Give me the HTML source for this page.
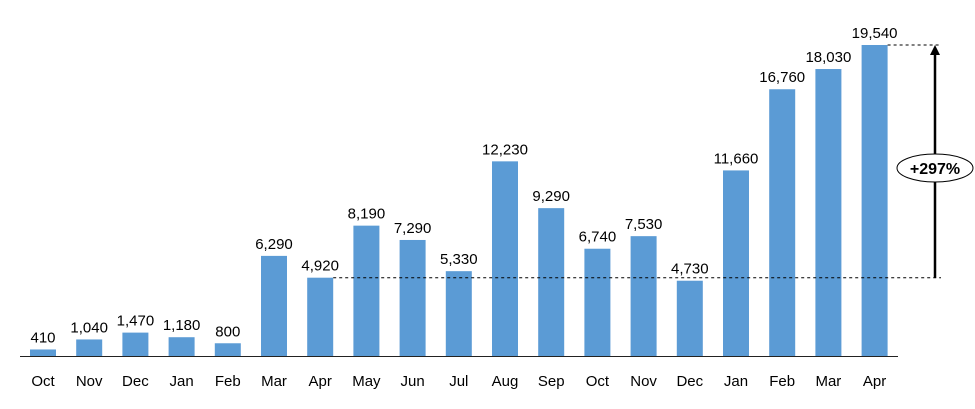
<!DOCTYPE html>
<html><head><meta charset="utf-8"><style>
body{margin:0;background:#fff;width:975px;height:404px;overflow:hidden}
svg text{font-family:"Liberation Sans",sans-serif}
</style></head><body>
<svg id="chart" width="975" height="404" xmlns="http://www.w3.org/2000/svg"></svg>
<script>
const categories=["Oct","Nov","Dec","Jan","Feb","Mar","Apr","May","Jun","Jul","Aug","Sep","Oct","Nov","Dec","Jan","Feb","Mar","Apr"];
const values=[410,1040,1470,1180,800,6290,4920,8190,7290,5330,12230,9290,6740,7530,4730,11660,16760,18030,19540];
const valueLabels=["410","1,040","1,470","1,180","800","6,290","4,920","8,190","7,290","5,330","12,230","9,290","6,740","7,530","4,730","11,660","16,760","18,030","19,540"];
const growthLabel="+297%";
const growthFromIndex=6, growthToIndex=18;

const svg=document.getElementById('chart');
const NS="http://www.w3.org/2000/svg";
const baseY=356, topY=45, maxV=19540;
const x0=43, step=46.2, bw=26;
function xScale(i){return x0+i*step;}
function yScale(v){return baseY-(v/maxV)*(baseY-topY);}
function mk(tag,attrs,parent){const e=document.createElementNS(NS,tag);for(const k in attrs)e.setAttribute(k,attrs[k]);(parent||svg).appendChild(e);return e;}

categories.forEach((c,i)=>{
  const y=yScale(values[i]);
  const r=mk('rect',{x:xScale(i)-bw/2,y:y,width:bw,height:baseY-y,fill:'#5b9bd5'});
  
  
  const t=mk('text',{x:xScale(i),y:y-7,'text-anchor':'middle','font-size':'15',fill:'#000'});
  t.textContent=valueLabels[i];
  
  
  const xl=mk('text',{x:xScale(i),y:386,'text-anchor':'middle','font-size':'15',fill:'#000'});
  xl.textContent=c;
  
  
});
const ax=mk('line',{x1:20,x2:898,y1:baseY+0.5,y2:baseY+0.5,stroke:'#222','stroke-width':1});



const yLow=yScale(values[growthFromIndex]), yHigh=yScale(values[growthToIndex]);
const arrowX=935;
const d1=mk('line',{x1:xScale(growthFromIndex)+bw/2,x2:arrowX+6,y1:yLow,y2:yLow,stroke:'#000','stroke-dasharray':'3,3','stroke-width':1});


const d2=mk('line',{x1:xScale(growthToIndex)+bw/2,x2:arrowX+6,y1:yHigh,y2:yHigh,stroke:'#000','stroke-dasharray':'3,3','stroke-width':1});


const ar=mk('line',{x1:arrowX,x2:arrowX,y1:yLow,y2:yHigh+8,stroke:'#000','stroke-width':2.5});


const ah=mk('polygon',{points:`${arrowX-5},${yHigh+10} ${arrowX+5},${yHigh+10} ${arrowX},${yHigh}`,fill:'#000'});


const cy=168;
const el=mk('ellipse',{cx:arrowX,cy:cy,rx:38,ry:14,fill:'#fff',stroke:'#000','stroke-width':1});


const gt=mk('text',{x:arrowX,y:cy+6,'text-anchor':'middle','font-size':'16','font-weight':'bold',fill:'#000'});
gt.textContent=growthLabel;


</script>
</body></html>
